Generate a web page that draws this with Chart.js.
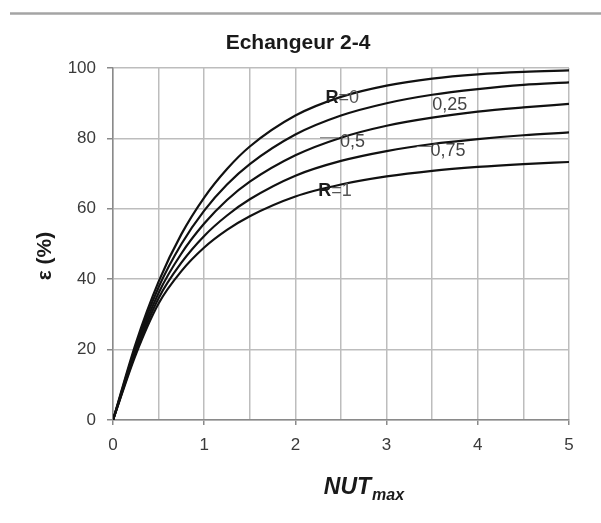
<!DOCTYPE html>
<html>
<head>
<meta charset="utf-8">
<script src="https://cdn.jsdelivr.net/npm/chart.js@4/dist/chart.umd.min.js"></script>
<style>
  html, body { margin: 0; padding: 0; background: #ffffff; }
  #wrap { width: 601px; height: 523px; }
</style>
</head>
<body>
<div id="wrap"><canvas id="c" width="601" height="523"></canvas></div>
<script>
// Effectiveness of a 2-4 exchanger versus NUTmax, one curve per capacity ratio R
const nut   = [0, 0.25, 0.5, 0.75, 1, 1.25, 1.5, 2, 2.5, 3, 3.5, 4, 4.5, 5];
const r0    = [0, 21.8, 39.3, 52.8, 63.2, 71.3, 77.7, 86.5, 91.8, 95.0, 97.0, 98.2, 98.9, 99.3];
const r025  = [0, 20.9, 37.7, 50.0, 59.5, 66.9, 72.7, 81.1, 86.5, 90.0, 92.4, 94.0, 95.2, 95.9];
const r05   = [0, 20.1, 36.1, 47.3, 55.8, 62.5, 67.7, 75.2, 80.2, 83.6, 85.9, 87.6, 88.8, 89.8];
const r075  = [0, 19.3, 34.6, 44.7, 52.3, 58.1, 62.7, 69.4, 73.6, 76.4, 78.4, 79.8, 80.9, 81.7];
const r1    = [0, 18.6, 33.1, 42.3, 49.0, 54.0, 57.9, 63.5, 66.9, 69.2, 70.8, 71.9, 72.7, 73.3];
const seriesNames = ['R=0', 'R=0,25', 'R=0,5', 'R=0,75', 'R=1'];
const xTicks = [0, 1, 2, 3, 4, 5];
const yTicks = [0, 20, 40, 60, 80, 100];

const FONT = '"Liberation Sans", Arial, sans-serif';

function series(vals) {
  return nut.map((x, i) => ({ x: x, y: vals[i] }));
}

const allSeries = [r0, r025, r05, r075, r1];

// Curve labels placed in data coordinates
const curveLabels = [
  { parts: [{ t: 'R', bold: true, color: '#1c1c1c' }, { t: '=0', bold: false, color: '#555' }], x: 2.33, y: 91.6 },
  { parts: [{ t: '0,25', bold: false, color: '#444' }], x: 3.50, y: 89.4 },
  { parts: [{ t: '0,5', bold: false, color: '#444' }], x: 2.49, y: 78.9, lead: [2.27, 80.2, 2.47, 80.2] },
  { parts: [{ t: '0,75', bold: false, color: '#444' }], x: 3.48, y: 76.4, lead: [3.33, 77.7, 3.50, 77.7] },
  { parts: [{ t: 'R', bold: true, color: '#1c1c1c' }, { t: '=1', bold: false, color: '#555' }], x: 2.25, y: 65.0 }
];

const decor = {
  id: 'decor',
  beforeDraw(chart) {
    const ctx = chart.ctx;
    ctx.save();
    ctx.fillStyle = '#ffffff';
    ctx.fillRect(0, 0, chart.width, chart.height);
    // rule across the top
    ctx.strokeStyle = '#a4a4a4';
    ctx.lineWidth = 2.5;
    ctx.beginPath();
    ctx.moveTo(10, 13.5);
    ctx.lineTo(601, 13.5);
    ctx.stroke();
    ctx.restore();
  },
  afterDraw(chart) {
    const ctx = chart.ctx;
    const xs = chart.scales.x, ys = chart.scales.y;
    ctx.save();
    // title
    ctx.fillStyle = '#1a1a1a';
    ctx.font = 'bold 21px ' + FONT;
    ctx.textAlign = 'center';
    ctx.textBaseline = 'middle';
    ctx.fillText('Echangeur 2-4', 298, 43);

    // x axis title with subscript
    ctx.textBaseline = 'alphabetic';
    ctx.textAlign = 'left';
    ctx.font = 'italic bold 23px ' + FONT;
    const main = 'NUT';
    const wMain = ctx.measureText(main).width;
    ctx.font = 'italic bold 16px ' + FONT;
    const sub = 'max';
    const wSub = ctx.measureText(sub).width;
    const startX = 364 - (wMain + wSub + 1) / 2;
    ctx.font = 'italic bold 23px ' + FONT;
    ctx.fillText(main, startX, 494);
    ctx.font = 'italic bold 16px ' + FONT;
    ctx.fillText(sub, startX + wMain + 1, 500);

    // y axis title
    ctx.translate(45, 256);
    ctx.rotate(-Math.PI / 2);
    ctx.textAlign = 'center';
    ctx.textBaseline = 'middle';
    ctx.font = 'bold 21px ' + FONT;
    ctx.fillText('ε (%)', 0, 0);
    ctx.restore();

    // curve labels
    ctx.save();
    ctx.textBaseline = 'middle';
    ctx.textAlign = 'left';
    curveLabels.forEach(l => {
      if (l.lead) {
        ctx.strokeStyle = '#777';
        ctx.lineWidth = 1;
        ctx.beginPath();
        ctx.moveTo(xs.getPixelForValue(l.lead[0]), ys.getPixelForValue(l.lead[1]));
        ctx.lineTo(xs.getPixelForValue(l.lead[2]), ys.getPixelForValue(l.lead[3]));
        ctx.stroke();
      }
      let px = xs.getPixelForValue(l.x);
      const py = ys.getPixelForValue(l.y);
      l.parts.forEach(p => {
        ctx.font = (p.bold ? 'bold ' : '') + '18px ' + FONT;
        ctx.fillStyle = p.color;
        ctx.fillText(p.t, px, py);
        px += ctx.measureText(p.t).width;
      });
    });
    ctx.restore();
  }
};

new Chart(document.getElementById('c'), {
  type: 'line',
  data: {
    datasets: allSeries.map((vals, i) => ({
      label: seriesNames[i],
      data: series(vals),
      borderColor: '#111111',
      borderWidth: 2.2,
      pointRadius: 0,
      fill: false,
      cubicInterpolationMode: 'monotone'
    }))
  },
  options: {
    responsive: false,
    animation: false,
    layout: { padding: { top: 68, right: 32, left: 0, bottom: 0 } },
    plugins: { legend: { display: false }, title: { display: false }, tooltip: { enabled: false } },
    scales: {
      x: {
        type: 'linear',
        min: 0, max: 5,
        afterFit(scale) { scale.height = 103; },
        afterBuildTicks(scale) {
          const t = [];
          for (let v = 0; v <= 10; v++) t.push({ value: v / 2 });
          scale.ticks = t;
        },
        ticks: {
          autoSkip: false,
          maxRotation: 0,
          padding: 10,
          color: '#3a3a3a',
          font: { family: FONT, size: 17 },
          callback: v => (xTicks.includes(v) ? String(v) : '')
        },
        grid: {
          color: '#bdbdbd',
          lineWidth: 1.5,
          tickLength: 5,
          tickColor: ctx => (ctx.tick && xTicks.includes(ctx.tick.value) ? '#8a8a8a' : 'rgba(0,0,0,0)')
        },
        border: { display: true, color: '#8a8a8a', width: 1.5 }
      },
      y: {
        type: 'linear',
        min: 0, max: 100,
        afterFit(scale) { scale.width = 113; },
        afterBuildTicks(scale) { scale.ticks = yTicks.map(v => ({ value: v })); },
        ticks: {
          padding: 11,
          color: '#3a3a3a',
          font: { family: FONT, size: 17 },
          callback: v => String(v)
        },
        grid: {
          color: '#bdbdbd',
          lineWidth: 1.5,
          tickLength: 6,
          tickColor: '#8a8a8a'
        },
        border: { display: true, color: '#8a8a8a', width: 1.5 }
      }
    }
  },
  plugins: [decor]
});
</script>
</body>
</html>
